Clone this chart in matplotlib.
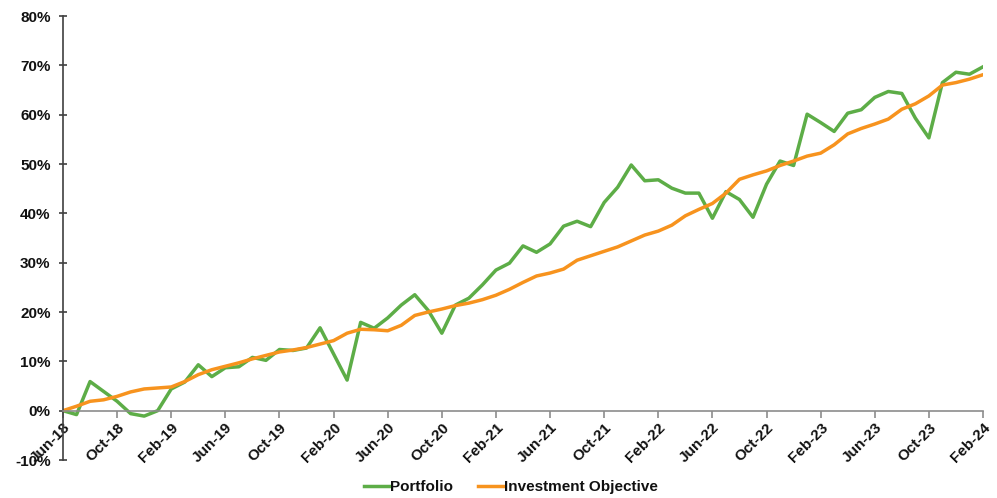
import matplotlib
matplotlib.use("Agg")
import matplotlib.pyplot as plt
from matplotlib.ticker import FuncFormatter, FixedLocator
import numpy as np

plt.rcParams['font.family'] = ['Liberation Sans', 'DejaVu Sans']

# Monthly cumulative returns (%), Jun-18 through Feb-24
months = [
    "Jun-18", "Jul-18", "Aug-18", "Sep-18", "Oct-18", "Nov-18", "Dec-18",
    "Jan-19", "Feb-19", "Mar-19", "Apr-19", "May-19", "Jun-19", "Jul-19",
    "Aug-19", "Sep-19", "Oct-19", "Nov-19", "Dec-19", "Jan-20", "Feb-20",
    "Mar-20", "Apr-20", "May-20", "Jun-20", "Jul-20", "Aug-20", "Sep-20",
    "Oct-20", "Nov-20", "Dec-20", "Jan-21", "Feb-21", "Mar-21", "Apr-21",
    "May-21", "Jun-21", "Jul-21", "Aug-21", "Sep-21", "Oct-21", "Nov-21",
    "Dec-21", "Jan-22", "Feb-22", "Mar-22", "Apr-22", "May-22", "Jun-22",
    "Jul-22", "Aug-22", "Sep-22", "Oct-22", "Nov-22", "Dec-22", "Jan-23",
    "Feb-23", "Mar-23", "Apr-23", "May-23", "Jun-23", "Jul-23", "Aug-23",
    "Sep-23", "Oct-23", "Nov-23", "Dec-23", "Jan-24", "Feb-24",
]

portfolio = [
    0.0, -0.8, 5.9, 3.9, 1.9, -0.6, -1.1,
    0.0, 4.4, 5.8, 9.3, 6.9, 8.7, 8.9,
    10.8, 10.2, 12.4, 12.2, 12.7, 16.8, 11.5,
    6.2, 17.9, 16.7, 18.8, 21.4, 23.5, 20.3,
    15.7, 21.4, 22.8, 25.5, 28.5, 29.9, 33.4,
    32.1, 33.8, 37.4, 38.4, 37.3, 42.2, 45.3,
    49.8, 46.6, 46.8, 45.1, 44.1, 44.1, 39.0,
    44.4, 42.8, 39.2, 45.9, 50.6, 49.7, 60.1,
    58.4, 56.6, 60.3, 61.0, 63.5, 64.7, 64.3,
    59.3, 55.3, 66.5, 68.6, 68.2, 69.7,
]

objective = [
    0.0, 0.9, 1.9, 2.2, 2.9, 3.8, 4.4,
    4.6, 4.8, 5.9, 7.3, 8.3, 9.0, 9.7,
    10.5, 11.2, 11.9, 12.3, 12.8, 13.5, 14.2,
    15.7, 16.5, 16.4, 16.2, 17.3, 19.3, 20.0,
    20.6, 21.3, 21.8, 22.5, 23.4, 24.6, 26.0,
    27.3, 27.9, 28.7, 30.5, 31.4, 32.3, 33.2,
    34.4, 35.6, 36.4, 37.6, 39.5, 40.8, 42.0,
    44.1, 46.9, 47.8, 48.6, 49.7, 50.6, 51.6,
    52.2, 53.9, 56.1, 57.2, 58.1, 59.1, 61.1,
    62.2, 63.8, 66.0, 66.5, 67.2, 68.1,
]

y_ticks = [-10, 0, 10, 20, 30, 40, 50, 60, 70, 80]

GREEN = "#5DAD47"
ORANGE = "#F7931E"
FS = 11

fig = plt.figure(figsize=(9.97, 4.98), dpi=100)
ax = fig.add_axes([63 / 997, 1 - 460 / 498, (983 - 63) / 997, (460 - 16) / 498])

# spine placement first: moving a spine resets the tick objects
for s in ("top", "right"):
    ax.spines[s].set_visible(False)
ax.spines["bottom"].set_position(("data", 0))
ax.spines["bottom"].set_color("#8c8c8c")
ax.spines["bottom"].set_linewidth(1.2)
ax.spines["left"].set_color("#404040")
ax.spines["left"].set_linewidth(1.2)

x = np.arange(len(months))
ax.plot(x, portfolio, color=GREEN, lw=2.5, label="Portfolio")
ax.plot(x, objective, color=ORANGE, lw=2.5, label="Investment Objective")

ax.set_xlim(0, len(months) - 1)
ax.set_ylim(-10, 80)

ax.yaxis.set_major_locator(FixedLocator(y_ticks))
ax.yaxis.set_major_formatter(FuncFormatter(lambda v, p: f"{v:.0f}%"))

tick_pos = x[::4]
ax.set_xticks(tick_pos)
ax.set_xticklabels([months[i] for i in tick_pos])

ax.tick_params(axis="x", direction="out", length=5, width=1.2, color="#8c8c8c",
               pad=2, labelsize=FS)
ax.tick_params(axis="y", direction="inout", length=6, width=1.2, color="#404040",
               pad=6, labelsize=FS)
for lab in ax.get_xticklabels():
    lab.set_rotation(45)
    lab.set_ha("right")
    lab.set_va("top")
    lab.set_rotation_mode("anchor")
for lab in ax.get_xticklabels() + ax.get_yticklabels():
    lab.set_fontweight("bold")
    lab.set_color("#111111")

leg = fig.legend(loc="lower center", bbox_to_anchor=(0.5125, -0.02), ncol=2,
                 frameon=False, prop={"weight": "bold", "size": FS},
                 handlelength=1.7, handletextpad=0.05, columnspacing=1.6)
for t in leg.get_texts():
    t.set_color("#111111")

fig.savefig("out.png", dpi=100)
